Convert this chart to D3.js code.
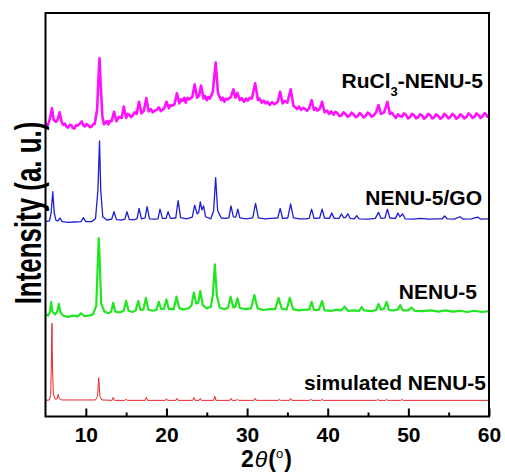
<!DOCTYPE html>
<html>
<head>
<meta charset="utf-8">
<script src="https://cdn.jsdelivr.net/npm/d3@7"></script>
<style>
  body { margin: 0; background: #fff; }
  svg { display: block; font-family: "Liberation Sans", Arial, sans-serif; font-weight: bold; }
</style>
</head>
<body>
<svg class="xrd" width="505" height="473"></svg>
<script>
// [2theta, intensity above the pattern's own offset]
var simulated = [
  [5.0, 0], [5.5, 0.1], [5.65, 1.5], [5.75, 12], [5.8, 19.1], [5.87, 8], [5.98, 1.5], [6.2, 0.3],
  [6.45, 0.4], [6.58, 1.5], [6.72, 0.4], [7.0, 0.1], [11.2, 0.1], [11.45, 1], [11.6, 5.6], [11.75, 1],
  [12.0, 0.1], [13.25, 0], [13.4, 0.75], [13.55, 0], [14.85, 0], [15.0, 0.3], [15.15, 0], [17.35, 0],
  [17.5, 0.75], [17.65, 0], [19.85, 0], [20.0, 0.4], [20.15, 0], [21.15, 0], [21.3, 0.5], [21.45, 0],
  [23.25, 0], [23.4, 0.7], [23.55, 0], [24.05, 0], [24.2, 0.5], [24.35, 0], [25.85, 0], [26.0, 1.0],
  [26.15, 0], [27.85, 0], [28.0, 0.5], [28.15, 0], [28.65, 0], [28.8, 0.3], [28.95, 0], [30.85, 0],
  [31.0, 0.5], [31.15, 0], [33.85, 0], [34.0, 0.25], [34.15, 0], [35.25, 0], [35.4, 0.5], [35.55, 0],
  [37.75, 0], [37.9, 0.3], [38.05, 0], [39.15, 0], [39.3, 0.25], [39.45, 0], [46.05, 0], [46.2, 0.25],
  [46.35, 0], [47.15, 0], [47.3, 0.25], [47.45, 0], [49.05, 0], [49.2, 0.25], [49.35, 0], [60.0, 0]
];

var nenu5 = [
  [5.0, 0.3], [5.3, 0], [5.55, 0.8], [5.7, 3.4], [5.85, 1.0], [6.2, 0.3], [6.45, 1.0], [6.65, 2.9],
  [6.85, 0.8], [7.2, 0], [7.8, -0.3], [8.4, 0], [9.0, -0.2], [9.4, 0.6], [9.8, -0.1], [10.4, 0],
  [10.9, 0.3], [11.3, 2.5], [11.5, 14], [11.6, 19.2], [11.72, 14], [11.9, 3], [12.3, 1.0], [12.8, 0.6],
  [13.15, 1.0], [13.4, 3.2], [13.65, 1.0], [14.2, 0.8], [14.7, 1.2], [15.0, 3.7], [15.3, 1.2], [15.8, 0.9],
  [16.2, 1.3], [16.5, 3.6], [16.8, 1.4], [17.15, 1.5], [17.45, 4.4], [17.75, 1.5], [18.3, 1.2], [18.75, 1.4],
  [19.05, 3.4], [19.35, 1.6], [19.7, 1.7], [20.0, 4.0], [20.3, 1.6], [20.9, 1.6], [21.25, 4.7], [21.6, 1.8],
  [22.2, 1.5], [22.8, 1.9], [23.1, 2.5], [23.4, 5.7], [23.7, 3.0], [23.95, 3.2], [24.2, 6.1], [24.5, 2.6],
  [25.0, 1.8], [25.5, 2.2], [25.75, 5], [26.0, 12.7], [26.25, 5], [26.6, 2.0], [27.2, 1.6], [27.65, 2.0],
  [27.95, 4.7], [28.3, 2.0], [28.55, 2.2], [28.8, 4.3], [29.1, 1.9], [29.8, 1.6], [30.5, 1.8], [30.9, 5.1],
  [31.3, 1.8], [32.0, 1.4], [32.8, 1.6], [33.5, 1.6], [33.9, 4.4], [34.3, 1.7], [34.9, 1.5], [35.3, 4.4],
  [35.7, 1.6], [36.4, 1.3], [37.2, 1.5], [37.7, 1.5], [38.0, 3.4], [38.3, 1.4], [38.9, 1.4], [39.3, 3.6],
  [39.6, 1.3], [40.5, 1.2], [41.1, 1.5], [41.7, 1.3], [42.1, 2.2], [42.5, 1.2], [43.3, 1.3], [43.9, 1.2],
  [44.2, 2.1], [44.5, 1.3], [45.4, 1.1], [46.0, 1.4], [46.3, 2.9], [46.6, 1.5], [46.95, 1.6], [47.3, 3.4],
  [47.6, 1.4], [48.1, 1.3], [48.7, 1.5], [49.0, 2.6], [49.3, 1.3], [50.0, 1.3], [50.4, 2.0], [50.8, 1.2],
  [51.8, 1.1], [52.8, 1.3], [53.7, 1.0], [54.6, 1.3], [55.5, 1.0], [56.4, 1.2], [57.3, 0.9], [58.2, 1.2],
  [59.1, 0.9], [60.0, 1.1]
];

var nenu5go = [
  [5.0, 0.3], [5.5, 0.5], [5.7, 2.5], [5.9, 7.7], [6.08, 2.5], [6.3, 0.6], [6.55, 0.5], [6.8, 1.2],
  [7.05, 0.3], [7.8, 0.1], [8.6, 0.2], [9.4, 0.3], [9.7, 1.3], [10.0, 0.3], [10.7, 0.3], [11.2, 1.0],
  [11.5, 8], [11.7, 20.3], [11.85, 8], [12.1, 1.5], [12.6, 0.7], [13.2, 0.9], [13.5, 2.75], [13.8, 0.8],
  [14.5, 0.7], [14.85, 0.9], [15.1, 2.75], [15.4, 0.8], [16.0, 0.8], [16.35, 1.0], [16.6, 3.6], [16.9, 1.0],
  [17.35, 1.2], [17.6, 4.0], [17.9, 1.0], [18.5, 0.9], [18.95, 1.0], [19.2, 3.4], [19.5, 1.1], [19.95, 1.1],
  [20.2, 2.75], [20.5, 1.1], [21.15, 1.2], [21.45, 5.5], [21.75, 1.3], [22.5, 1.0], [23.2, 1.4], [23.5, 4.4],
  [23.8, 2.2], [24.0, 2.6], [24.2, 5.2], [24.4, 3.2], [24.6, 4.2], [24.85, 1.5], [25.5, 1.0], [25.85, 3.0],
  [26.1, 11.2], [26.35, 3.0], [26.8, 1.2], [27.4, 1.1], [27.75, 1.3], [28.0, 4.2], [28.3, 1.5], [28.6, 1.4],
  [28.85, 3.4], [29.1, 1.2], [29.9, 1.0], [30.7, 1.2], [31.05, 4.8], [31.4, 1.2], [32.2, 1.0], [33.0, 1.1],
  [33.8, 1.2], [34.1, 3.6], [34.4, 1.1], [35.05, 1.2], [35.4, 4.7], [35.75, 1.2], [36.5, 1.0], [37.3, 1.0],
  [37.7, 1.1], [38.0, 3.4], [38.3, 1.1], [39.0, 1.2], [39.3, 3.4], [39.6, 1.2], [40.2, 1.1], [40.5, 2.4],
  [40.8, 1.1], [41.4, 1.1], [41.7, 2.2], [42.0, 1.2], [42.2, 1.3], [42.5, 2.2], [42.8, 1.1], [43.3, 1.0],
  [43.6, 1.75], [43.9, 1.0], [45.0, 0.9], [45.9, 1.1], [46.3, 2.6], [46.6, 1.1], [47.1, 1.2], [47.4, 3.4],
  [47.7, 1.2], [48.4, 1.1], [48.7, 2.4], [48.95, 1.5], [49.3, 2.2], [49.6, 1.0], [50.5, 0.9], [51.5, 1.1],
  [52.5, 0.9], [53.5, 1.0], [54.2, 1.0], [54.5, 1.7], [54.8, 1.0], [55.7, 0.9], [56.4, 1.5], [56.8, 0.9],
  [57.8, 1.0], [58.6, 1.4], [59.0, 0.9], [60.0, 1.0]
];

var rucl3nenu5 = [
  [5.0, 0.7], [5.3, 0.2], [5.55, 1.8], [5.8, 4.4], [6.0, 1.6], [6.3, 1.0], [6.5, 1.5], [6.75, 3.4],
  [7.0, 1.0], [7.2, 0.3], [7.4, 0.6], [7.6, -0.2], [7.8, -0.4], [8.0, 0.3], [8.2, 0.2], [8.4, -0.5],
  [8.6, -0.6], [8.8, 0.2], [9.0, 0.1], [9.25, 0.6], [9.5, 1.1], [9.7, 0.1], [9.9, -0.1], [10.1, 0.5],
  [10.3, 0.2], [10.5, -0.3], [10.7, -0.2], [10.9, 0.4], [11.1, 0.5], [11.4, 4], [11.55, 11], [11.7, 16.8],
  [11.85, 10], [12.05, 2.5], [12.25, 0.4], [12.4, 0.7], [12.6, 1.2], [12.8, 0.4], [13.0, 1.3], [13.2, 1.2],
  [13.5, 3.5], [13.8, 1.2], [14.1, 2.2], [14.45, 2.0], [14.7, 4.8], [15.0, 2.0], [15.2, 3.0], [15.4, 2.8],
  [15.6, 2.2], [15.8, 2.6], [16.05, 3.4], [16.3, 3.0], [16.6, 6.0], [16.9, 3.1], [17.2, 3.8], [17.5, 6.9],
  [17.8, 3.6], [18.05, 4.2], [18.3, 3.4], [18.55, 3.8], [18.8, 4.0], [19.05, 4.6], [19.3, 3.7], [19.7, 4.3],
  [20.0, 6.0], [20.3, 4.4], [20.5, 5.2], [20.7, 5.0], [21.0, 5.4], [21.3, 8.1], [21.6, 5.6], [21.8, 6.6],
  [22.0, 6.2], [22.2, 7.0], [22.4, 5.8], [22.6, 7.0], [22.8, 6.6], [23.2, 7.2], [23.5, 10.3], [23.8, 7.0],
  [24.05, 7.6], [24.3, 10.0], [24.6, 6.8], [24.8, 7.4], [25.0, 6.4], [25.2, 7.2], [25.4, 6.8], [25.75, 8.5],
  [26.1, 15.7], [26.4, 8.0], [26.6, 7.2], [26.8, 6.4], [27.0, 7.0], [27.2, 6.0], [27.4, 6.8], [27.6, 6.6],
  [28.0, 7.2], [28.3, 9.1], [28.55, 7.0], [28.8, 8.2], [29.1, 6.4], [29.35, 6.9], [29.6, 6.0], [29.85, 6.8],
  [30.1, 6.3], [30.35, 7.0], [30.6, 6.8], [31.0, 10.6], [31.35, 6.4], [31.55, 6.8], [31.8, 5.8], [32.05, 6.3],
  [32.3, 5.6], [32.55, 6.0], [32.8, 5.2], [33.1, 5.9], [33.4, 5.4], [33.8, 6.0], [34.1, 8.5], [34.4, 5.6],
  [34.7, 6.2], [35.0, 5.8], [35.4, 9.1], [35.75, 5.0], [36.0, 4.6], [36.2, 4.2], [36.45, 4.8], [36.7, 4.0],
  [36.95, 4.5], [37.2, 4.2], [37.45, 3.8], [37.7, 4.4], [38.0, 6.4], [38.3, 4.0], [38.5, 4.5], [38.7, 3.8],
  [39.0, 4.2], [39.3, 6.0], [39.6, 3.4], [39.9, 3.8], [40.2, 3.0], [40.45, 3.6], [40.7, 2.8], [40.95, 3.5],
  [41.2, 3.2], [41.45, 2.5], [41.7, 2.6], [41.95, 3.4], [42.2, 3.0], [42.45, 2.3], [42.7, 2.5], [42.95, 3.3],
  [43.2, 2.9], [43.45, 2.2], [43.7, 2.4], [43.95, 3.2], [44.2, 2.8], [44.45, 2.1], [44.7, 2.5], [44.95, 3.3],
  [45.2, 3.0], [45.45, 2.3], [45.7, 2.6], [46.0, 3.4], [46.3, 5.2], [46.6, 3.0], [47.0, 3.4], [47.4, 6.0],
  [47.7, 3.0], [47.95, 3.3], [48.2, 2.6], [48.45, 2.0], [48.7, 2.9], [48.95, 2.5], [49.2, 2.3], [49.45, 3.1],
  [49.7, 2.8], [49.95, 1.9], [50.2, 2.2], [50.45, 3.0], [50.7, 2.7], [50.95, 1.9], [51.2, 2.1], [51.45, 2.9],
  [51.7, 2.6], [51.95, 1.8], [52.2, 2.2], [52.45, 3.0], [52.7, 2.7], [52.95, 1.9], [53.2, 2.1], [53.45, 2.9],
  [53.7, 2.5], [53.95, 1.8], [54.2, 2.1], [54.45, 3.0], [54.7, 2.6], [54.95, 1.9], [55.2, 2.2], [55.45, 3.0],
  [55.7, 2.6], [55.95, 1.8], [56.2, 2.1], [56.45, 2.9], [56.7, 2.5], [56.95, 1.9], [57.2, 2.2], [57.45, 3.1],
  [57.7, 2.7], [57.95, 2.0], [58.2, 2.3], [58.45, 3.1], [58.7, 2.7], [58.95, 2.0], [59.2, 2.4], [59.45, 3.2],
  [59.6, 2.9], [59.8, 2.3], [60.0, 2.7]
];

var seriesNames = ["simulated NENU-5", "NENU-5", "NENU-5/GO", "RuCl3-NENU-5"];
var offsets = [4, 25, 48, 72];
var majorTicks = [10, 20, 30, 40, 50, 60];
var minorTicks = [15, 25, 35, 45, 55];

var patterns = [simulated, nenu5, nenu5go, rucl3nenu5];
var colors = ["#e8262b", "#22e622", "#1d1dd6", "#ff10ff"];
var strokeWidths = [1, 2.2, 1.3, 2.6];
// right end / baseline of each pattern label, in px
var labelPos = [[486, 390], [477, 299], [482, 205], [483, 88]];

var svg = d3.select("svg.xrd"),
    frame = {left: 45.5, right: 489, top: 13, bottom: 416.5};

var x = d3.scaleLinear()
    .domain([5, 60])
    .range([frame.left, frame.right]);

var y = d3.scaleLinear()
    .domain([0, 100])
    .range([frame.bottom, frame.top]);

var line = d3.line()
    .x(function (d) { return x(d[0]); })
    .y(function (d) { return y(d[1]); });

svg.selectAll(".pattern")
  .data(patterns)
  .enter().append("path")
    .attr("class", "pattern")
    .attr("fill", "none")
    .attr("stroke", function (d, i) { return colors[i]; })
    .attr("stroke-width", function (d, i) { return strokeWidths[i]; })
    .attr("stroke-linejoin", "round")
    .attr("d", function (d, i) {
      return line(d.map(function (p) { return [p[0], p[1] + offsets[i]]; }));
    });

// pattern labels
svg.selectAll(".name")
  .data(seriesNames)
  .enter().append("text")
    .attr("class", "name")
    .attr("x", function (d, i) { return labelPos[i][0]; })
    .attr("y", function (d, i) { return labelPos[i][1]; })
    .attr("text-anchor", "end")
    .style("font-size", "21px")
    .each(function (d) {
      var t = d3.select(this),
          m = d.match(/^(.*Cl)(3)(-.*)$/);
      if (!m) { t.text(d); return; }
      t.append("tspan").text(m[1]);
      t.append("tspan").attr("dy", 8).style("font-size", "13px").text(m[2]);
      t.append("tspan").attr("dy", -8).text(m[3]);
    });

// frame
svg.append("rect")
    .attr("x", frame.left)
    .attr("y", frame.top)
    .attr("width", frame.right - frame.left)
    .attr("height", frame.bottom - frame.top)
    .attr("fill", "none")
    .attr("stroke", "#000")
    .attr("stroke-width", 2);

var xAxis = svg.append("g")
    .attr("class", "axis axis--x")
    .attr("transform", "translate(0," + frame.bottom + ")")
    .call(d3.axisBottom(x).tickValues(majorTicks).tickSize(-8).tickPadding(11).tickFormat(d3.format("d")));

svg.append("g")
    .attr("class", "axis axis--minor")
    .attr("transform", "translate(0," + frame.bottom + ")")
    .call(d3.axisBottom(x).tickValues(minorTicks).tickSize(-4).tickFormat(""));

svg.selectAll(".axis .domain").remove();
svg.selectAll(".axis line").attr("stroke", "#000").attr("stroke-width", 2);
xAxis.selectAll("text")
    .attr("fill", "#000")
    .style("font-family", "'Liberation Sans', Arial, sans-serif")
    .style("font-weight", "bold")
    .style("font-size", "21px");

// x label: 2θ(°)
var xl = svg.append("text")
    .attr("x", 241)
    .attr("y", 467)
    .style("font-size", "23px");
xl.append("tspan").text("2");
xl.append("tspan").attr("dx", 1).style("font-style", "italic").style("font-weight", "normal").text("\u03b8");
xl.append("tspan").attr("dx", 1).text("(");
xl.append("tspan").attr("dy", -9).style("font-size", "13px").style("font-weight", "normal").text("o");
xl.append("tspan").attr("dy", 9).attr("dx", 1).text(")");

// y label, tall and narrow as in the original
svg.append("text")
    .attr("text-anchor", "middle")
    .attr("transform", "translate(41,213) rotate(-90) scale(0.7,1)")
    .style("font-size", "37px")
    .text("Intensity (a. u.)");
</script>
</body>
</html>
